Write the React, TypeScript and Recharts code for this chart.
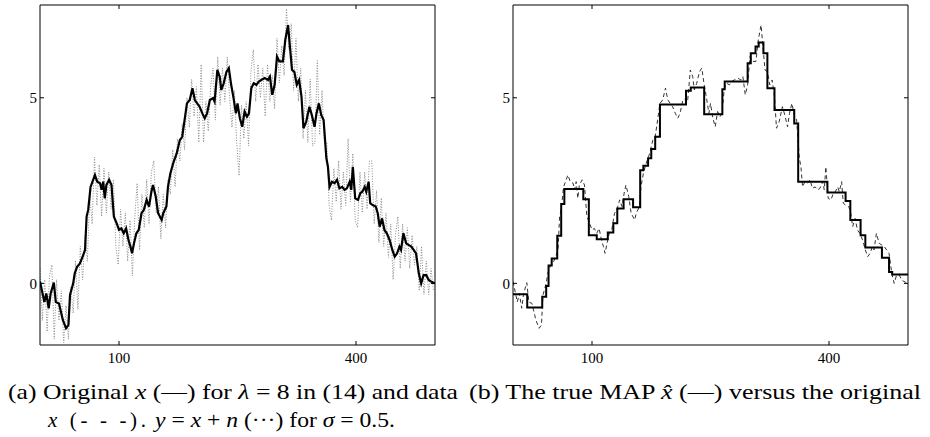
import React from "react";
import { LineChart, Line, XAxis, YAxis } from "recharts";

// Original signal x: index and value
const xIdx = [0,5.5,8,11,13.5,17.5,20,24,29,33,36,38,42,44,47,50.5,54,57,59,61,64,69.5,72.5,76,78,80,82,84,87.5,90.5,93.5,97,100,103,106,109,112,114.5,116.5,119,122,125,128.5,131.5,135,138,141,143,146.5,149.5,154,156,160,162,165,168.5,173,177,180,183,186,189.5,193,196,199,202,205.5,208.5,211.5,215,219,221,224.5,227.5,229.5,232.5,236,239,242,245,248,250,253,256,259,262,264.5,267.5,270.5,274,277,280,284.5,288.5,291,294,297,300,303,307.5,310.5,314,316,319,322,325,328,331,333.5,337,341,344,347.5,350,353,356,359,362.5,364.5,366.5,369.5,373,376,379,382.5,385.5,388.5,392,394,396,399,402.5,405.5,408,411,413,416,418,421,425,427.5,430,433,436,439,442.5,446,449,452,455,457,460,463.5,467,470,473,476,479.5,482.5,485.5,489,492,495,500];
const xVal = [0.05,-0.5,-0.27,-0.67,-0.27,0.02,-0.5,-0.54,-0.99,-1.21,-1.12,-0.31,0,0.27,0.45,0.54,0.72,0.9,1.8,1.98,2.6,2.92,2.74,2.7,2.52,2.74,2.29,2.65,2.79,2.65,1.8,1.62,1.44,1.48,1.35,1.48,1.17,0.99,0.81,1.08,1.35,1.44,1.89,1.98,2.25,2.07,2.47,2.65,2.34,1.89,1.71,1.89,2.07,2.6,2.96,3.23,3.5,3.86,3.95,4.4,4.85,4.94,5.26,4.94,4.85,4.76,4.58,4.45,4.58,4.94,4.99,4.9,5.75,5.57,5.21,5.39,5.7,5.8,5.35,4.99,4.58,4.85,4.45,4.22,4.63,4.49,4.58,5.26,5.39,5.35,5.44,5.48,5.53,5.48,5.57,5.08,5.35,6.11,5.98,5.98,6.56,6.96,6.47,5.75,5.7,5.35,5.48,5.03,4.18,4.36,4.76,4.54,4.22,4.58,4.85,4.54,4.4,3.37,3.14,2.6,2.74,2.7,2.79,2.56,2.6,2.52,2.56,2.74,2.52,3.14,2.29,2.25,2.43,2.47,2.6,2.47,2.74,2.16,2.11,2.07,1.89,1.53,1.75,1.44,1.35,1.17,0.9,0.72,0.81,0.99,0.9,1.35,1.08,1.03,0.99,0.9,0.81,0.27,0,0.22,0.22,0.09,0.05,0.0];

// Noisy data y = x + n, every 3rd sample
const yVal = [0.4,-1.0,0.1,-1.3,0.2,0.5,-1.5,0.1,-1.0,-0.2,-1.6,-0.6,-1.5,-0.1,-0.8,0.6,-0.7,1.0,0.1,1.3,0.6,2.4,1.6,3.4,2.1,3.2,1.8,3.1,1.9,3.0,2.0,2.8,1.0,0.5,2.0,1.0,1.9,0.6,1.7,0.2,1.8,2.7,0.9,2.4,1.5,2.8,1.6,3.0,3.3,1.9,2.6,1.2,2.4,1.5,2.8,2.4,3.6,2.6,3.9,3.3,4.3,3.6,5.0,4.2,5.5,4.5,5.3,3.8,5.9,3.8,4.9,4.1,5.3,5.8,4.4,6.1,4.8,5.8,4.9,6.1,5.0,4.2,5.2,3.8,2.9,4.8,3.9,4.9,3.7,5.7,6.3,4.9,5.9,5.0,5.8,4.5,5.9,4.9,5.6,4.7,6.6,5.4,6.4,5.6,7.4,6.3,7.0,5.2,6.6,4.9,5.8,3.9,5.2,3.8,5.5,3.7,3.8,6.0,4.0,5.2,3.8,3.8,2.1,1.7,3.1,2.2,3.3,2.0,3.0,2.1,3.9,2.2,3.5,1.7,1.5,3.0,1.9,3.0,2.0,3.3,3.3,1.6,2.5,1.1,2.3,1.0,1.9,0.7,1.6,0.1,1.3,1.8,0.4,1.6,0.6,1.5,0.4,1.3,0.5,1.0,-0.2,1.0,-0.3,0.6,-0.3,0.4,-0.2];
const yStep = 3;

// MAP estimate (piecewise constant): step start index and level
const mapIdx = [0,18,37,42,45,49,56,61,65,89,96,106,120,127,132,140,152,161,165,171,175,180,186,219,225,242,265,268,297,301,307,311,317,322,331,356,361,398,421,427,440,446,467,476,480,500];
const mapVal = [-0.29,-0.65,-0.36,-0.07,0.48,0.67,1.28,2.14,2.54,2.27,1.30,1.19,1.37,1.62,2.02,2.27,2.05,3.05,3.17,3.37,3.62,3.95,4.82,5.19,5.28,4.56,5.23,5.44,5.93,6.20,6.38,6.49,6.20,5.26,4.67,4.31,2.74,2.45,2.22,1.71,1.30,0.97,0.69,0.31,0.24,0.24];

const xTicks = [100, 400];
const yTicks = [0, 5];
const xDomain = [0, 500];
const yDomain = [-1.66, 7.5];

const origData = xIdx.map((n, i) => ({ n, v: xVal[i] }));
const noisyData = yVal.map((v, i) => ({ n: i * yStep, v }));
const mapData = mapIdx.map((n, i) => ({ n, v: mapVal[i] }));

const FONT = "Liberation Serif, Times New Roman, Tinos, serif";
const TL = 4;

const BottomTick = (p: any) => (
  <g>
    <line x1={p.x} x2={p.x} y1={p.y} y2={p.y - TL} stroke="#000" strokeWidth={1} />
    <text x={p.x} y={p.y + 13} dy="0.35em" textAnchor="middle" fontFamily={FONT} fontSize={15} fill="#000">
      {p.payload.value}
    </text>
  </g>
);
const TopTick = (p: any) => (
  <line x1={p.x} x2={p.x} y1={p.y} y2={p.y + TL} stroke="#000" strokeWidth={1} />
);
const LeftTick = (p: any) => (
  <g>
    <line x1={p.x} x2={p.x + TL} y1={p.y} y2={p.y} stroke="#000" strokeWidth={1} />
    <text x={p.x - 3} y={p.y} dy="0.35em" textAnchor="end" fontFamily={FONT} fontSize={15} fill="#000">
      {p.payload.value}
    </text>
  </g>
);
const RightTick = (p: any) => (
  <line x1={p.x} x2={p.x - TL} y1={p.y} y2={p.y} stroke="#000" strokeWidth={1} />
);

function renderAxes() {
  return [
    <XAxis key="xb" xAxisId={0} dataKey="n" type="number" domain={xDomain} ticks={xTicks} allowDataOverflow
      height={25} tickSize={0} tickMargin={0} tickLine={false} tick={<BottomTick />}
      axisLine={{ stroke: "#000", strokeWidth: 1 }} />,
    <XAxis key="xt" xAxisId="top" orientation="top" dataKey="n" type="number" domain={xDomain} ticks={xTicks} allowDataOverflow
      height={5} tickSize={0} tickMargin={0} tickLine={false} tick={<TopTick />}
      axisLine={{ stroke: "#000", strokeWidth: 1 }} />,
    <YAxis key="yl" yAxisId={0} type="number" domain={yDomain} ticks={yTicks} allowDataOverflow
      width={40} tickSize={0} tickMargin={0} tickLine={false} tick={<LeftTick />}
      axisLine={{ stroke: "#000", strokeWidth: 1 }} />,
    <YAxis key="yr" yAxisId="right" orientation="right" type="number" domain={yDomain} ticks={yTicks} allowDataOverflow
      width={5} tickSize={0} tickMargin={0} tickLine={false} tick={<RightTick />}
      axisLine={{ stroke: "#000", strokeWidth: 1 }} />,
  ];
}

export default function App() {
  const margin = { top: 0, right: 20, bottom: 0, left: 0 };
  return (
    <div style={{ position: "absolute", left: 0, top: 0, width: 930, height: 437, background: "#fff", overflow: "hidden" }}>
      <div style={{ position: "absolute", left: 0, top: 0 }}>
        <LineChart width={460} height={370} margin={margin}>
          {renderAxes()}
          <Line data={noisyData} dataKey="v" type="linear" stroke="#8a8a8a" strokeWidth={1}
            strokeDasharray="1 1.6" dot={false} isAnimationActive={false} />
          <Line data={origData} dataKey="v" type="linear" stroke="#000" strokeWidth={2.2}
            dot={false} isAnimationActive={false} />
        </LineChart>
      </div>
      <div style={{ position: "absolute", left: 472.8, top: 0 }}>
        <LineChart width={460} height={370} margin={margin}>
          {renderAxes()}
          <Line data={origData} dataKey="v" type="linear" stroke="#333" strokeWidth={1}
            strokeDasharray="4 3" dot={false} isAnimationActive={false} />
          <Line data={mapData} dataKey="v" type="stepAfter" stroke="#000" strokeWidth={2}
            dot={false} isAnimationActive={false} />
        </LineChart>
      </div>
      <svg width={930} height={437} style={{ position: "absolute", left: 0, top: 0, pointerEvents: "none" }}>
        <g fontFamily={FONT} fontSize={21} fill="#000">
          <text x={8} y={399} textLength={450} lengthAdjust="spacingAndGlyphs">
            (a) Original <tspan fontStyle="italic">x</tspan> (—) for <tspan fontStyle="italic">λ</tspan> = 8 in (14) and data
          </text>
          <text x={48} y={427} textLength={98} lengthAdjust="spacing">
            <tspan fontStyle="italic">x</tspan> (- - -).
          </text>
          <text x={155} y={427} textLength={240} lengthAdjust="spacingAndGlyphs">
            <tspan fontStyle="italic">y</tspan> = <tspan fontStyle="italic">x</tspan> + <tspan fontStyle="italic">n</tspan> (···) for <tspan fontStyle="italic">σ</tspan> = 0.5.
          </text>
          <text x={469} y={399} textLength={452} lengthAdjust="spacingAndGlyphs">
            (b) The true MAP <tspan fontStyle="italic">x̂</tspan> (—) versus the original
          </text>
        </g>
      </svg>
    </div>
  );
}
